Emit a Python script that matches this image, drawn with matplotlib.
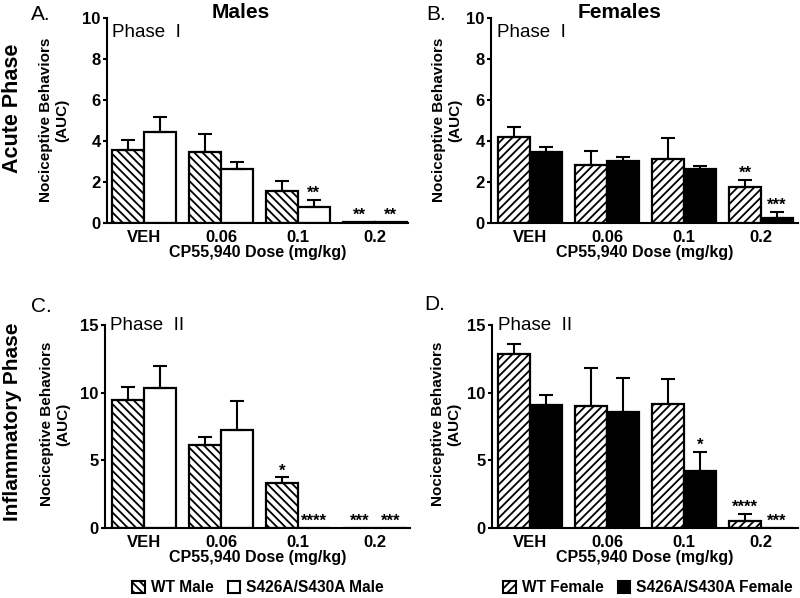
import matplotlib
matplotlib.use("Agg")
import matplotlib.pyplot as plt
from matplotlib.patches import Patch

plt.rcParams['font.family'] = ['Liberation Sans', 'DejaVu Sans']
plt.rcParams['hatch.linewidth'] = 1.3

doses = ['VEH', '0.06', '0.1', '0.2']

# Panel A: Males, Phase I
a_wt = [3.58, 3.48, 1.54, 0.04]
a_wt_err = [0.49, 0.86, 0.49, 0.0]
a_mut = [4.42, 2.63, 0.80, 0.04]
a_mut_err = [0.75, 0.35, 0.32, 0.0]
a_wt_stars = ['', '', '', '**']
a_mut_stars = ['', '', '**', '**']

# Panel B: Females, Phase I
b_wt = [4.18, 2.83, 3.12, 1.76]
b_wt_err = [0.52, 0.67, 1.01, 0.35]
b_mut = [3.45, 3.04, 2.65, 0.24]
b_mut_err = [0.27, 0.18, 0.11, 0.28]
b_wt_stars = ['', '', '', '**']
b_mut_stars = ['', '', '', '***']

# Panel C: Males, Phase II
c_wt = [9.47, 6.12, 3.29, 0.0]
c_wt_err = [0.93, 0.64, 0.45, 0.0]
c_mut = [10.33, 7.23, 0.03, 0.0]
c_mut_err = [1.67, 2.16, 0.0, 0.0]
c_wt_stars = ['', '', '*', '***']
c_mut_stars = ['', '', '****', '***']

# Panel D: Females, Phase II
d_wt = [12.83, 9.05, 9.17, 0.49]
d_wt_err = [0.77, 2.75, 1.87, 0.54]
d_mut = [9.10, 8.58, 4.18, 0.03]
d_mut_err = [0.71, 2.52, 1.42, 0.0]
d_wt_stars = ['', '', '', '****']
d_mut_stars = ['', '', '*', '***']

W, H = 800, 598
fig = plt.figure(figsize=(8.0, 5.98), dpi=100)

def px_axes(L, R, T, B):
    return fig.add_axes([L / W, 1 - B / H, (R - L) / W, (B - T) / H])

SP = 77.0
BW = 0.41

def panel(ax, L, R, c0, wt, wte, mut, mute, wts, muts, wt_hatch, mut_color, ymax, yticks, phase):
    xs = list(range(len(doses)))
    ax.set_xlim((L - c0) / SP, (R - c0) / SP)
    ax.set_ylim(0, ymax)
    xw = [x - BW / 2 for x in xs]
    xm = [x + BW / 2 for x in xs]
    ax.bar(xw, wt, width=BW, color='white', edgecolor='black', hatch=wt_hatch, linewidth=1.6, zorder=2)
    ax.bar(xm, mut, width=BW, color=mut_color, edgecolor='black', linewidth=1.6, zorder=2)
    for xx, v, e in zip(xw + xm, wt + mut, wte + mute):
        if e > 0:
            ax.errorbar([xx], [v], yerr=[[0], [e]], fmt='none', ecolor='black',
                        elinewidth=1.5, capsize=4.8, capthick=1.5, zorder=3)
    for xx, v, e, s in zip(xw + xm, wt + mut, wte + mute, wts + muts):
        if s:
            ax.annotate(s, (xx, v + e), xytext=(0, 1.5), textcoords='offset points',
                        ha='center', va='baseline', fontsize=12, fontweight='bold')
    for sp in ['top', 'right']:
        ax.spines[sp].set_visible(False)
    for sp in ['left', 'bottom']:
        ax.spines[sp].set_linewidth(1.5)
    ax.set_xticks(xs)
    ax.set_xticklabels(doses, fontsize=12, fontweight='bold')
    ax.tick_params(axis='x', length=0, pad=5)
    ax.set_yticks(yticks)
    ax.set_yticklabels([str(t) for t in yticks], fontsize=12, fontweight='bold')
    ax.tick_params(axis='y', length=3, width=1.5, pad=1.5)
    ax.set_xlabel('CP55,940 Dose (mg/kg)', fontsize=11.5, fontweight='bold', labelpad=0)
    ax.text(0.018, 0.93 if ymax == 10 else 1.0, phase, transform=ax.transAxes,
            ha='left', va='center', fontsize=13.5)

axA = px_axes(107, 408, 18, 223)
panel(axA, 107, 408, 144, a_wt, a_wt_err, a_mut, a_mut_err, a_wt_stars, a_mut_stars,
      '\\\\\\\\', 'white', 10, [0, 2, 4, 6, 8, 10], 'Phase  I')
axB = px_axes(491, 798, 18, 223)
panel(axB, 491, 798, 530, b_wt, b_wt_err, b_mut, b_mut_err, b_wt_stars, b_mut_stars,
      '////', 'black', 10, [0, 2, 4, 6, 8, 10], 'Phase  I')
axC = px_axes(105, 410, 325, 528)
panel(axC, 105, 410, 144, c_wt, c_wt_err, c_mut, c_mut_err, c_wt_stars, c_mut_stars,
      '\\\\\\\\', 'white', 15, [0, 5, 10, 15], 'Phase  II')
axD = px_axes(492, 798, 325, 528)
panel(axD, 492, 798, 530, d_wt, d_wt_err, d_mut, d_mut_err, d_wt_stars, d_mut_stars,
      '////', 'black', 15, [0, 5, 10, 15], 'Phase  II')

def ftext(x, y, s, **kw):
    fig.text(x / W, 1 - y / H, s, **kw)

ylab = 'Nociceptive Behaviors\n(AUC)'
ftext(54, 120, ylab, rotation=90, ha='center', va='center', fontsize=11, fontweight='bold', linespacing=1.15)
ftext(447, 120, ylab, rotation=90, ha='center', va='center', fontsize=11, fontweight='bold', linespacing=1.15)
ftext(55, 424, ylab, rotation=90, ha='center', va='center', fontsize=11, fontweight='bold', linespacing=1.15)
ftext(446, 424, ylab, rotation=90, ha='center', va='center', fontsize=11, fontweight='bold', linespacing=1.15)

ftext(241, 12, 'Males', ha='center', va='center', fontsize=15, fontweight='bold')
ftext(620, 12, 'Females', ha='center', va='center', fontsize=15, fontweight='bold')
ftext(31, 14, 'A.', ha='left', va='center', fontsize=15)
ftext(426, 14, 'B.', ha='left', va='center', fontsize=15)
ftext(31, 307, 'C.', ha='left', va='center', fontsize=15)
ftext(424, 305, 'D.', ha='left', va='center', fontsize=15)
ftext(13, 108, 'Acute Phase', rotation=90, ha='center', va='center', fontsize=15.5, fontweight='bold')
ftext(13, 422, 'Inflammatory Phase', rotation=90, ha='center', va='center', fontsize=15, fontweight='bold')

male_handles = [Patch(facecolor='white', edgecolor='black', hatch='\\\\\\\\', linewidth=1.5),
                Patch(facecolor='white', edgecolor='black', linewidth=1.5)]
female_handles = [Patch(facecolor='white', edgecolor='black', hatch='////', linewidth=1.5),
                  Patch(facecolor='black', edgecolor='black', linewidth=1.5)]
legprop = {'weight': 'bold', 'size': 11.2}
fig.legend(male_handles, ['WT Male', 'S426A/S430A Male'], loc='center',
           bbox_to_anchor=(258 / W, 1 - 588 / H), ncol=2, frameon=False, prop=legprop,
           handlelength=0.8, handleheight=0.8, handletextpad=0.4, columnspacing=0.9)
fig.legend(female_handles, ['WT Female', 'S426A/S430A Female'], loc='center',
           bbox_to_anchor=(648 / W, 1 - 588 / H), ncol=2, frameon=False, prop=legprop,
           handlelength=0.8, handleheight=0.8, handletextpad=0.4, columnspacing=0.9)

fig.savefig('out.png', dpi=100)
